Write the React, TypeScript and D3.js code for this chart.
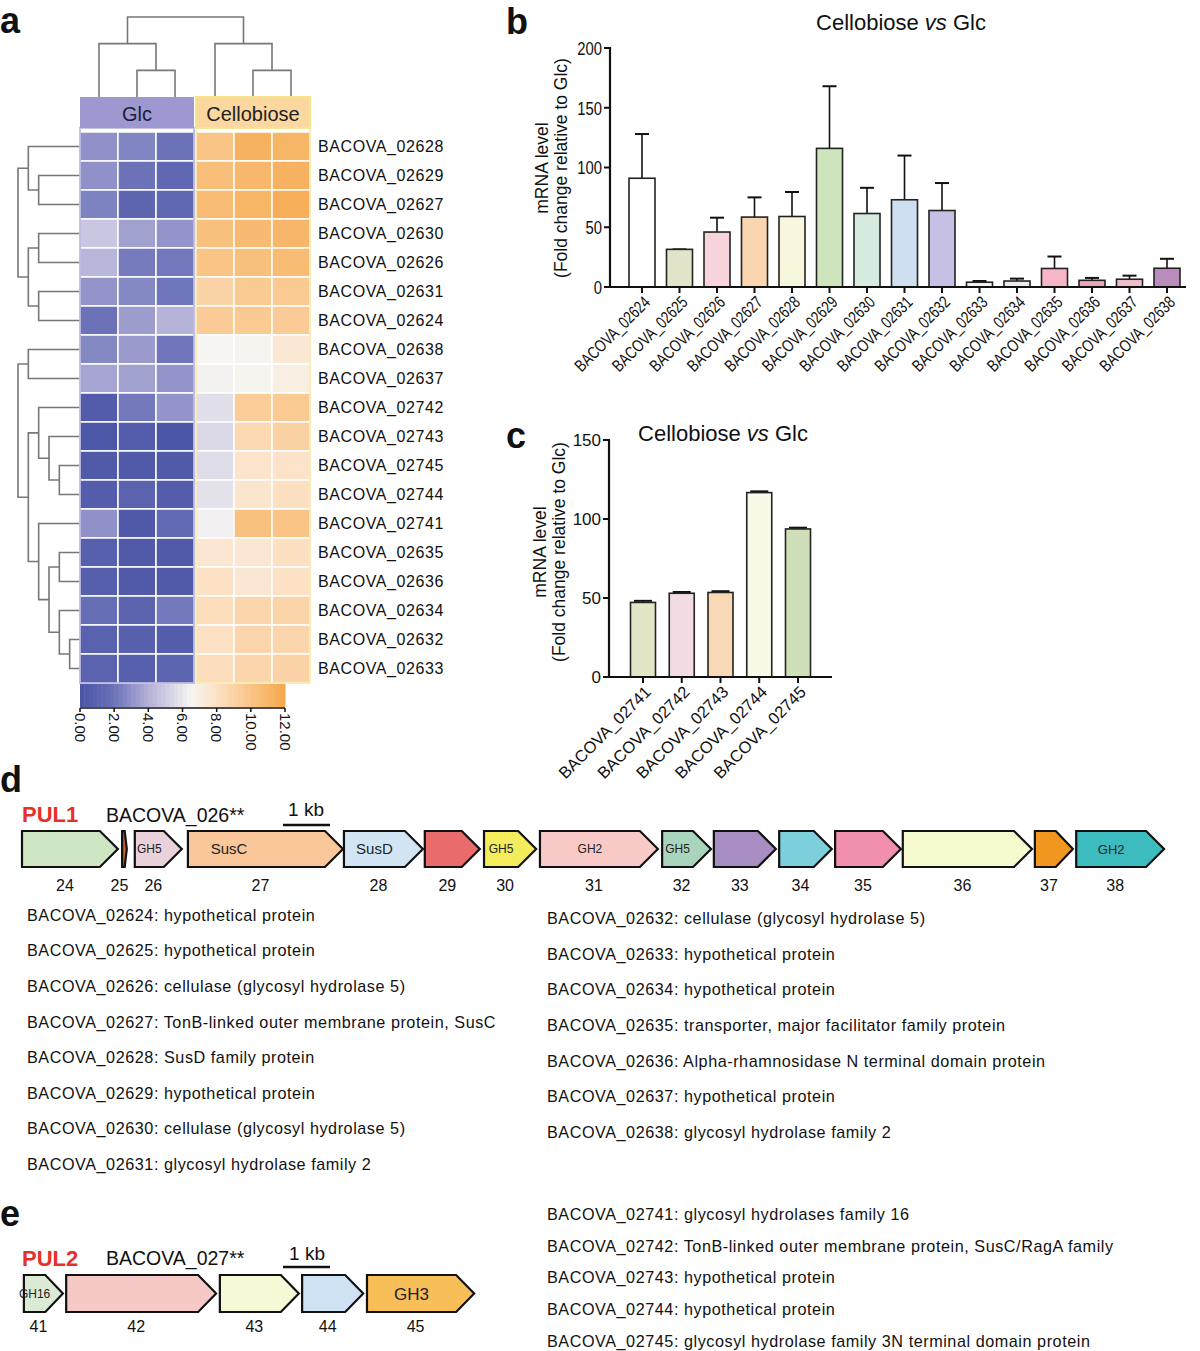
import React from 'react';
import * as d3 from 'd3';

// ---------------- Heatmap data ----------------
const heatGenes = ['BACOVA_02628','BACOVA_02629','BACOVA_02627','BACOVA_02630','BACOVA_02626','BACOVA_02631','BACOVA_02624','BACOVA_02638','BACOVA_02637','BACOVA_02742','BACOVA_02743','BACOVA_02745','BACOVA_02744','BACOVA_02741','BACOVA_02635','BACOVA_02636','BACOVA_02634','BACOVA_02632','BACOVA_02633'];
const glcExpr = [
  [3.0,2.6,2.0],[3.0,2.0,1.3],[2.5,1.2,1.3],[4.8,3.5,3.1],[4.2,2.3,2.2],[3.1,2.7,2.1],[2.0,3.4,4.1],
  [2.7,3.3,2.1],[3.6,3.5,3.1],[0.5,2.2,3.1],[0.2,0.6,0.1],[0.4,0.4,0.4],[0.6,1.0,0.6],[3.0,0.3,1.4],
  [0.8,0.4,0.4],[0.7,0.4,0.4],[1.7,1.0,2.2],[0.9,0.8,0.6],[1.0,0.8,1.1]];
const celExpr = [
  [10.0,11.3,11.1],[10.4,10.9,11.3],[10.6,11.1,11.6],[10.3,10.7,11.0],[10.0,10.3,10.6],[9.0,9.6,9.6],[9.5,9.6,9.5],
  [6.5,6.6,7.5],[6.4,6.6,7.0],[5.7,9.4,9.6],[5.5,8.6,9.1],[5.6,7.8,7.9],[5.8,7.7,8.1],[6.3,10.2,10.0],
  [7.6,7.6,8.1],[8.0,7.6,8.0],[8.3,8.8,8.9],[8.0,8.8,8.8],[8.2,8.8,9.0]];
const colorTicks = [0,2,4,6,8,10,12];
const colorStops = [0,2,4,6.5,8,10,12];
const colorRange = ['#4a54a5','#6b72b8','#b3b0d8','#f6f5f1','#fce1c5','#f9c486','#f5a84c'];
// dendrograms: [level, left, right]; leaves are row / column indices
const rowTrees: any[] = [
  [6, [5, 0, [4, 1, 2]], [5, [4, 3, 4], [4, 5, 6]]],
  [6, [5, 7, 8], [5, [4, 9, [3, 10, [2, 11, 12]]], [4, 13, [3, [2, 14, 15], [2, 16, [1, 17, 18]]]]]],
];
const colTree: any = [3, [2, 0, [1, 1, 2]], [2, 3, [1, 4, 5]]];

// ---------------- Bar chart b ----------------
const bGenes = ['BACOVA_02624','BACOVA_02625','BACOVA_02626','BACOVA_02627','BACOVA_02628','BACOVA_02629','BACOVA_02630','BACOVA_02631','BACOVA_02632','BACOVA_02633','BACOVA_02634','BACOVA_02635','BACOVA_02636','BACOVA_02637','BACOVA_02638'];
const bMeans = [91, 31.5, 46, 58.5, 59, 116, 61.5, 73, 64, 4, 5, 15.5, 5.6, 6.5, 15.7];
const bUpper = [128, 31.5, 58, 75, 79.5, 168, 83, 110, 87, 5, 7, 25.5, 7.6, 9.5, 23.6];
const bColors = ['#ffffff','#e2e4c9','#f7d3dc','#fad6b0','#f8f6dc','#cfe5bd','#d6ebe0','#cddff0','#c6c0e4','#f2f2f2','#ececec','#f6b6c6','#e8a6b6','#f0bfca','#b88dbb'];
const bTicks = [0, 50, 100, 150, 200];

// ---------------- Bar chart c ----------------
const cGenes = ['BACOVA_02741','BACOVA_02742','BACOVA_02743','BACOVA_02744','BACOVA_02745'];
const cMeans = [47.2, 53, 53.5, 116.7, 93.7];
const cUpper = [48.2, 53.8, 54.3, 117.5, 94.5];
const cColors = ['#e2e5c6','#f2dbe2','#f9d8b6','#f8f9e6','#cfdfb8'];
const cTicks = [0, 50, 100, 150];

// ---------------- Gene clusters (kb) ----------------
const pul1Ids = ['24','25','26','27','28','29','30','31','32','33','34','35','36','37','38'];
const pul1Start = [0.0, 2.13, 2.40, 3.53, 6.85, 8.57, 9.83, 11.02, 13.62, 14.72, 16.11, 17.30, 18.74, 21.55, 22.43];
const pul1End = [2.04, 2.23, 3.40, 6.83, 8.53, 9.74, 10.94, 13.53, 14.66, 16.04, 17.23, 18.70, 21.49, 22.36, 24.30];
const pul1Colors = ['#cfe6c4','#c8642a','#ead2dc','#f9c79a','#d2e5f4','#ea6b6b','#f3ec5c','#f8c9c6','#a9d5bd','#a78dc1','#7dcfdc','#f18fae','#f7f9cf','#f1961f','#3dbcbf'];
const pul1Names = ['', '', 'GH5', 'SusC', 'SusD', '', 'GH5', 'GH2', 'GH5', '', '', '', '', '', 'GH2'];
const pul2Ids = ['41','42','43','44','45'];
const pul2Start = [0.04, 0.94, 4.21, 5.96, 7.34];
const pul2End = [0.87, 4.13, 5.89, 7.26, 9.62];
const pul2Colors = ['#dbead5','#f6c9c7','#f6f8d6','#cfe2f3','#f8bf59'];
const pul2Names = ['GH16', '', '', '', 'GH3'];

const pul1DescLeft = [
  'BACOVA_02624: hypothetical protein',
  'BACOVA_02625: hypothetical protein',
  'BACOVA_02626: cellulase (glycosyl hydrolase 5)',
  'BACOVA_02627: TonB-linked outer membrane protein, SusC',
  'BACOVA_02628: SusD family protein',
  'BACOVA_02629: hypothetical protein',
  'BACOVA_02630: cellulase (glycosyl hydrolase 5)',
  'BACOVA_02631: glycosyl hydrolase family 2',
];
const pul1DescRight = [
  'BACOVA_02632: cellulase (glycosyl hydrolase 5)',
  'BACOVA_02633: hypothetical protein',
  'BACOVA_02634: hypothetical protein',
  'BACOVA_02635: transporter, major facilitator family protein',
  'BACOVA_02636: Alpha-rhamnosidase N terminal domain protein',
  'BACOVA_02637: hypothetical protein',
  'BACOVA_02638: glycosyl hydrolase family 2',
];
const pul2Desc = [
  'BACOVA_02741: glycosyl hydrolases family 16',
  'BACOVA_02742: TonB-linked outer membrane protein, SusC/RagA family',
  'BACOVA_02743: hypothetical protein',
  'BACOVA_02744: hypothetical protein',
  'BACOVA_02745: glycosyl hydrolase family 3N terminal domain protein',
];

const FONT = "'Liberation Sans', Arial, Helvetica, sans-serif";

function dendro(node: any, posOf: (i: number) => number, lvl: (l: number) => number, horizontalRows: boolean, out: string[]): { p: number; l: number } {
  if (typeof node === 'number') return { p: posOf(node), l: 0 };
  const [L, a, b] = node;
  const A = dendro(a, posOf, lvl, horizontalRows, out);
  const B = dendro(b, posOf, lvl, horizontalRows, out);
  const pth = d3.path();
  if (horizontalRows) {
    pth.moveTo(lvl(A.l), A.p); pth.lineTo(lvl(L), A.p); pth.lineTo(lvl(L), B.p); pth.lineTo(lvl(B.l), B.p);
  } else {
    pth.moveTo(A.p, lvl(A.l)); pth.lineTo(A.p, lvl(L)); pth.lineTo(B.p, lvl(L)); pth.lineTo(B.p, lvl(B.l));
  }
  out.push(pth.toString());
  return { p: (A.p + B.p) / 2, l: L };
}

function arrowPath(x0: number, x1: number, y0: number, y1: number) {
  const w = x1 - x0;
  const tip = Math.min(18, w * 0.45);
  const p = d3.path();
  p.moveTo(x0, y0); p.lineTo(x1 - tip, y0); p.lineTo(x1, (y0 + y1) / 2); p.lineTo(x1 - tip, y1); p.lineTo(x0, y1); p.closePath();
  return { d: p.toString(), tip };
}

function Heatmap() {
  const rowY = d3.scaleBand<string>().domain(heatGenes).range([132, 683]);
  const glcX = d3.scaleBand<number>().domain([0, 1, 2]).range([80, 194]);
  const celX = d3.scaleBand<number>().domain([0, 1, 2]).range([196, 310]);
  const color = d3.scaleLinear<string>().domain(colorStops).range(colorRange).clamp(true);
  const colCenters = [0, 1, 2].map(i => glcX(i)! + glcX.bandwidth() / 2).concat([0, 1, 2].map(i => celX(i)! + celX.bandwidth() / 2));
  const rowLevel = d3.scaleLinear().domain([0, 6]).range([80, 18]);
  const colLevel = d3.scaleLinear().domain([0, 3]).range([97, 17]);
  const rowPaths: string[] = [];
  rowTrees.forEach(t => dendro(t, i => rowY(heatGenes[i])! + rowY.bandwidth() / 2, rowLevel, true, rowPaths));
  const colPaths: string[] = [];
  dendro(colTree, i => colCenters[i], colLevel, false, colPaths);
  const legX = d3.scaleLinear().domain([0, 12]).range([80, 285]);
  const steps = d3.range(0, 12, 0.25);
  return (
    <g>
      {rowPaths.concat(colPaths).map((d, i) => <path key={i} d={d} fill="none" stroke="#777" strokeWidth={1.6} />)}
      <rect x={80} y={97} width={114} height={31} fill="#9d99d0" />
      <rect x={196} y={97} width={114} height={31} fill="#fcd7a0" stroke="#f4e48a" strokeWidth={2} />
      <text x={137} y={121} textAnchor="middle" fontSize={20} fill="#1c1c3a">Glc</text>
      <text x={253} y={121} textAnchor="middle" fontSize={20} fill="#222">Cellobiose</text>
      {heatGenes.map((g, r) => (
        <g key={g}>
          {glcExpr[r].map((v, c) => <rect key={'g' + c} x={glcX(c)} y={rowY(g)} width={glcX.bandwidth()} height={rowY.bandwidth()} fill={color(v)} stroke="#fff" strokeWidth={1.5} />)}
          {celExpr[r].map((v, c) => <rect key={'c' + c} x={celX(c)} y={rowY(g)} width={celX.bandwidth()} height={rowY.bandwidth()} fill={color(v)} stroke="#fff" strokeWidth={1.5} />)}
          <text x={318} y={rowY(g)! + rowY.bandwidth() / 2} dy="0.36em" fontSize={16} letterSpacing={0.6} fill="#111">{g}</text>
        </g>
      ))}
      <rect x={80} y={128} width={114} height={555} fill="none" stroke="#9d99d0" strokeOpacity={0.6} strokeWidth={2} />
      <rect x={196} y={128} width={114} height={555} fill="none" stroke="#f6e6a0" strokeOpacity={0.7} strokeWidth={2} />
      {steps.map(s => <rect key={s} x={legX(s)} y={684} width={legX(0.25) - legX(0) + 0.5} height={23} fill={color(s + 0.125)} />)}
      <line x1={80} x2={285} y1={708} y2={708} stroke="#111" strokeWidth={1.5} />
      {colorTicks.map(t => (
        <g key={t}>
          <line x1={legX(t)} x2={legX(t)} y1={708} y2={712} stroke="#111" strokeWidth={1.5} />
          <text transform={`translate(${legX(t)},713) rotate(90)`} dy="0.35em" fontSize={15} fill="#111">{t.toFixed(2)}</text>
        </g>
      ))}
    </g>
  );
}

function VsTitle({ x, y }: { x: number; y: number }) {
  return (
    <text x={x} y={y} textAnchor="middle" fontSize={22} fill="#111" fontFamily={FONT}>
      Cellobiose <tspan fontStyle="italic">vs</tspan> Glc
    </text>
  );
}

function BarPanel({ genes, means, upper, colors, ticks, yDomain, yRange, xRange, axisX, axisEnd, barW, capW, labelX, labelY, labelSize, tickSize, squeeze, title }: any) {
  const y = d3.scaleLinear().domain(yDomain).range(yRange);
  const x = d3.scalePoint<string>().domain(genes).range(xRange);
  const y0 = y(0);
  return (
    <g>
      <VsTitle x={title[0]} y={title[1]} />
      <text transform={`translate(${labelX},${labelY}) rotate(-90)`} textAnchor="middle" fontSize={17.5} fill="#111">
        <tspan x={0} dy={-3}>mRNA level</tspan>
        <tspan x={0} dy={19}>(Fold change relative to Glc)</tspan>
      </text>
      {genes.map((g: string, i: number) => {
        const cx = x(g)!;
        return (
          <g key={g}>
            <line x1={cx} x2={cx} y1={y(means[i])} y2={y(upper[i])} stroke="#111" strokeWidth={1.6} />
            <line x1={cx - capW / 2} x2={cx + capW / 2} y1={y(upper[i])} y2={y(upper[i])} stroke="#111" strokeWidth={2} />
            <rect x={cx - barW / 2} y={y(means[i])} width={barW} height={y0 - y(means[i])} fill={colors[i]} stroke="#222" strokeWidth={1.6} />
          </g>
        );
      })}
      <line x1={axisX} x2={axisX} y1={y(yDomain[1]) - 1} y2={y0 + 1} stroke="#111" strokeWidth={2.2} />
      <line x1={axisX - 1} x2={axisEnd} y1={y0} y2={y0} stroke="#111" strokeWidth={2.2} />
      {ticks.map((t: number) => (
        <g key={t}>
          <line x1={axisX - 6} x2={axisX} y1={y(t)} y2={y(t)} stroke="#111" strokeWidth={2} />
          <text transform={`translate(${axisX - 8},${y(t)}) scale(${squeeze},1)`} dy="0.36em" textAnchor="end" fontSize={tickSize} fill="#111">{t}</text>
        </g>
      ))}
      {genes.map((g: string) => (
        <g key={'l' + g}>
          <line x1={x(g)} x2={x(g)} y1={y0} y2={y0 + 6} stroke="#111" strokeWidth={2} />
          <text transform={`translate(${x(g)! + 5},${y0 + 12}) rotate(-45) scale(${squeeze},1)`} textAnchor="end" dy="0.35em" fontSize={labelSize} fill="#111">{g}</text>
        </g>
      ))}
    </g>
  );
}

function GeneCluster({ ids, starts, ends, colors, names, y0, y1, labelY, nameSizes, namePos }: any) {
  const x = d3.scaleLinear().domain([0, 1]).range([22, 69]);
  return (
    <g>
      {ids.map((id: string, i: number) => {
        const x0 = x(starts[i]);
        const x1 = x(ends[i]);
        const { d, tip } = arrowPath(x0, x1, y0, y1);
        const bodyC = x0 + (x1 - tip - x0) * namePos[i];
        return (
          <g key={id}>
            <path d={d} fill={colors[i]} stroke="#111" strokeWidth={2.2} strokeLinejoin="miter" />
            {names[i] ? <text x={bodyC} y={(y0 + y1) / 2} dy="0.36em" textAnchor="middle" fontSize={nameSizes[i]} fill="#222">{names[i]}</text> : null}
            <text x={(x0 + x1) / 2 - 5} y={labelY} dy="0.36em" textAnchor="middle" fontSize={16} fill="#111">{id}</text>
          </g>
        );
      })}
    </g>
  );
}

export default function App() {
  const d1Sizes = pul1Names.map((n, i) => (n === 'SusC' || n === 'SusD' ? 15 : i === 14 ? 13 : 12));
  const d1Pos = pul1Names.map(n => (n === 'SusC' ? 0.3 : 0.5));
  const d2Sizes = pul2Names.map(n => (n === 'GH3' ? 17 : 12));
  const d2Pos = pul2Names.map(() => 0.5);
  const letter = (t: string, x: number, y: number) => <text x={x} y={y} fontSize={36} fontWeight="bold" fill="#111">{t}</text>;
  const descStyle = { fontSize: 16.2, letterSpacing: 0.55 };
  return (
    <svg width={1200} height={1351} style={{ position: 'absolute', left: 0, top: 0, background: '#fff' }} fontFamily={FONT}>
      <rect width={1200} height={1351} fill="#fff" />
      {letter('a', 0, 33)}
      {letter('b', 506, 34)}
      {letter('c', 506, 448)}
      {letter('d', 0, 792)}
      {letter('e', 0, 1226)}
      <Heatmap />
      <BarPanel genes={bGenes} means={bMeans} upper={bUpper} colors={bColors} ticks={bTicks}
        yDomain={[0, 200]} yRange={[287, 48]} xRange={[642, 1167]} axisX={610} axisEnd={1186}
        barW={26} capW={14} labelX={551} labelY={168} labelSize={17} tickSize={19} squeeze={0.78} title={[901, 30]} />
      <BarPanel genes={cGenes} means={cMeans} upper={cUpper} colors={cColors} ticks={cTicks}
        yDomain={[0, 150]} yRange={[677, 440]} xRange={[643, 798]} axisX={609} axisEnd={832}
        barW={25} capW={18} labelX={549} labelY={552} labelSize={16.5} tickSize={17} squeeze={1} title={[723, 441]} />
      {/* d */}
      <text x={22} y={822} fontSize={22} fontWeight="bold" fill="#e8302a">PUL1</text>
      <text x={106} y={822} fontSize={19.5} fill="#111">BACOVA_026**</text>
      <text x={306} y={816} textAnchor="middle" fontSize={19} fill="#111">1 kb</text>
      <line x1={283} x2={330} y1={825} y2={825} stroke="#111" strokeWidth={2.5} />
      <GeneCluster ids={pul1Ids} starts={pul1Start} ends={pul1End} colors={pul1Colors} names={pul1Names}
        y0={831} y1={867} labelY={885} nameSizes={d1Sizes} namePos={d1Pos} />
      {pul1DescLeft.map((t, i) => <text key={t} x={27} y={915 + i * 35.6} dy="0.36em" {...descStyle} fill="#111">{t}</text>)}
      {pul1DescRight.map((t, i) => <text key={t} x={547} y={918 + i * 35.7} dy="0.36em" {...descStyle} fill="#111">{t}</text>)}
      {/* e */}
      <text x={22} y={1266} fontSize={22} fontWeight="bold" fill="#e8302a">PUL2</text>
      <text x={106} y={1265} fontSize={19.5} fill="#111">BACOVA_027**</text>
      <text x={307} y={1260} textAnchor="middle" fontSize={19} fill="#111">1 kb</text>
      <line x1={283} x2={330} y1={1267} y2={1267} stroke="#111" strokeWidth={2.5} />
      <GeneCluster ids={pul2Ids} starts={pul2Start} ends={pul2End} colors={pul2Colors} names={pul2Names}
        y0={1275} y1={1312} labelY={1326} nameSizes={d2Sizes} namePos={d2Pos} />
      {pul2Desc.map((t, i) => <text key={t} x={547} y={1214 + i * 31.8} dy="0.36em" {...descStyle} fill="#111">{t}</text>)}
    </svg>
  );
}
